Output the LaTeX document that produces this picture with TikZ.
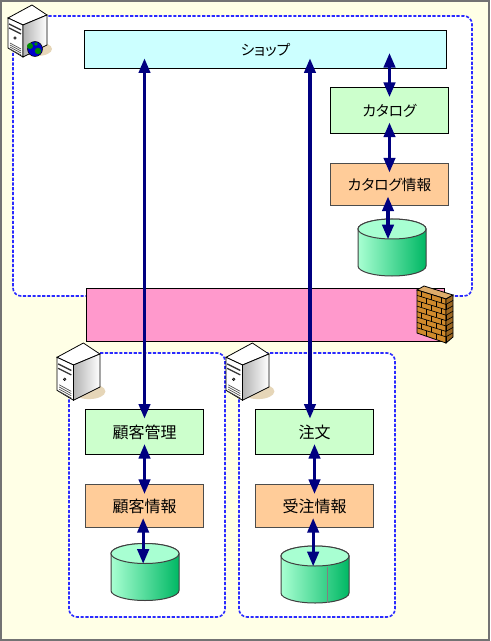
\documentclass[tikz,border=0pt]{standalone}
\usepackage{fontspec}
\setmainfont[RawFeature={+palt}]{Noto Sans CJK JP}
\usepackage{tikz}
\usetikzlibrary{arrows.meta,positioning}
\definecolor{navyarr}{HTML}{000080}
\definecolor{dashblue}{HTML}{2A2AFF}
\definecolor{cream}{HTML}{FFFFE6}
\definecolor{shopcyan}{HTML}{CCFFFF}
\definecolor{appgreen}{HTML}{CCFFCC}
\definecolor{infoorange}{HTML}{FFCC99}
\definecolor{dmzpink}{HTML}{FF99CC}
\definecolor{brick}{HTML}{D08A2C}
\definecolor{dblight}{HTML}{A8FFD2}
\definecolor{dbdark}{HTML}{00B864}
\definecolor{sombra}{HTML}{E6D6B8}
\begin{document}
\begin{tikzpicture}[
	x=0.75pt,y=-0.75pt,
	node distance=22.5pt and 0pt,
	zona/.style={draw=dashblue,line width=1.2pt,dash pattern=on 2.4pt off 1.2pt,fill=white,rounded corners=6pt},
	tienda/.style={draw=black,line width=0.75pt,fill=shopcyan,minimum width=272pt,minimum height=28.5pt,outer sep=0pt,font=\fontsize{11}{13}\selectfont},
	app/.style={draw=black,line width=0.75pt,fill=appgreen,minimum width=89pt,minimum height=34pt,outer sep=0pt,font=\fontsize{12}{14}\selectfont},
	info/.style={draw=black!70,line width=0.75pt,fill=infoorange,minimum width=89pt,minimum height=32pt,outer sep=0pt,font=\fontsize{12}{14}\selectfont},
	dmz/.style={draw=black,line width=0.75pt,fill=dmzpink,minimum width=269pt,minimum height=39.75pt,outer sep=0pt},
	dbhueco/.style={minimum width=51pt,minimum height=43pt,outer sep=0pt,inner sep=0pt},
	arr/.style={{Triangle[length=11pt,width=8.5pt]}-{Triangle[length=11pt,width=8.5pt]},line width=2.4pt,navyarr,shorten <=-8pt,shorten >=-7pt},
	arrdb/.style={arr,shorten <=-7pt,shorten >=-15pt},
	cilindro/.pic={
		\draw[line width=0.75pt,draw=black!75,left color=dblight,right color=dbdark] (-34,-19) -- (-34,18) arc[start angle=180,end angle=0,x radius=34,y radius=10] -- (34,-19) arc[start angle=0,end angle=-180,x radius=34,y radius=10] -- cycle;
		\draw[line width=0.75pt,draw=black!75,fill=dblight] (0,-19) ellipse[x radius=34,y radius=10];
	},
	servidor/.pic={
		\fill[sombra] (29,44) ellipse[x radius=15,y radius=7];
		\draw[line width=0.6pt,fill=white] (0,13) -- (24,0) -- (39,10) -- (15,20) -- cycle;
		\draw[line width=0.6pt,fill=white] (0,13) -- (15,20) -- (15,52) -- (0,43) -- cycle;
		\draw[line width=0.6pt,left color=black!30,right color=white] (15,20) -- (39,10) -- (39,40) -- (15,52) -- cycle;
		\foreach \yy in {19,23} \draw[line width=1pt,black!80] (1,\yy) -- (13,\yy+6);
		\draw[fill=black!60,line width=0.3pt] (7,33) circle[radius=1.3];
		\foreach \yy in {39,41,43,45} \draw[line width=0.5pt,black!70] (2,\yy-1) -- (13,\yy+5);
	},
	pared/.pic={
		\draw[line width=0.6pt,fill=brick!70!white] (0,4) -- (7,0) -- (36,9) -- (29,13) -- cycle;
		\draw[line width=0.6pt,fill=brick] (0,4) -- (29,13) -- (29,57) -- (0,47) -- cycle;
		\draw[line width=0.6pt,fill=brick!75!black] (29,13) -- (36,9) -- (36,51) -- (29,57) -- cycle;
		\foreach \i in {1,...,7} {
			\draw[line width=0.5pt] (0,4+\i*5.4) -- (29,13+\i*5.4) -- (36,9+\i*5.4);
		}
		\foreach \i in {0,...,7} {
			\pgfmathsetmacro{\desf}{mod(\i,2)*5}
			\foreach \k in {0,1,2} {
				\pgfmathsetmacro{\xb}{4+\desf+\k*10}
				\draw[line width=0.5pt] (\xb,4+\xb*0.31+\i*5.4) -- (\xb,4+\xb*0.31+\i*5.4+5.4);
			}
		}
	}
	]
	\useasboundingbox (0,0) rectangle (490,641);
	\draw[line width=1.5pt,draw=black!55,fill=cream] (1,1) rectangle (488.5,639.5);
	\draw[zona] (13,16) rectangle (472,296);
	\draw[zona] (69,353) rectangle (225,617);
	\draw[zona] (239,353) rectangle (395,617);
	\node[tienda] (shop) at (265.5,50) {ショップ};
	\node[app,font=\fontsize{11}{13}\selectfont] (cat) at (389.5,110.5) {カタログ};
	\node[info,font=\fontsize{11}{13}\selectfont] (catinfo) [below=of cat] {カタログ情報};
	\node[dbhueco] (catdb) at (392,248) {};
	\pic at (catdb) {cilindro};
	\node[dmz] (fw) at (265.5,314.5) {};
	\pic at (417,286) {pared};
	\pic at (8,5) {servidor};
	\fill[blue!80!black] (35,49) circle[radius=7.5];
	\draw[line width=0.4pt] (35,49) circle[radius=7.5];
	\fill[green!55!black] (30,46) circle[radius=3] (38,51) circle[radius=3.2] (36,44) circle[radius=1.8];
	\pic[scale=1.1] at (57,343) {servidor};
	\pic[scale=1.1] at (226,343) {servidor};
	\node[app] (cust) at (144.5,432) {顧客管理};
	\node[info] (custinfo) [below=22.5pt of cust] {顧客情報};
	\node[dbhueco] (custdb) at (145,572.5) {};
	\pic at (custdb) {cilindro};
	\node[app] (ord) at (314.5,432) {注文};
	\node[info] (ordinfo) [below=22.5pt of ord] {受注情報};
	\node[dbhueco] (orddb) at (315,575) {};
	\pic at (orddb) {cilindro};
	\draw[black!50,line width=0.6pt] ([xshift=9pt,yshift=6pt]orddb.center) -- ([xshift=9pt,yshift=-21pt]orddb.center);
	\draw[arr] (shop.south -| cust.north) -- (cust.north);
	\draw[arr] ([xshift=-3.4pt]shop.south -| ord.north) -- ([xshift=-3.4pt]ord.north);
	\draw[arr,shorten <=-12pt] (shop.south -| cat.north) -- (cat.north);
	\draw[arr] (cat) -- (catinfo);
	\draw[arrdb] (catinfo.south -| catdb.north) ++(-3pt,0) -- ([xshift=-3pt]catdb.north);
	\draw[arr] (cust) -- (custinfo);
	\draw[arrdb] ([xshift=-1pt]custinfo.south) -- ([xshift=-1pt]custinfo.south |- custdb.north);
	\draw[arr] (ord) -- (ordinfo);
	\draw[arrdb] ([xshift=-1pt]ordinfo.south) -- ([xshift=-1pt]ordinfo.south |- orddb.north);
\end{tikzpicture}
\end{document}
